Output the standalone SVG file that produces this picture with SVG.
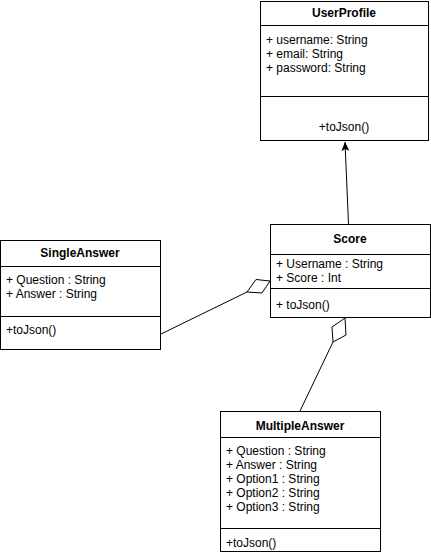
<svg xmlns="http://www.w3.org/2000/svg" width="431" height="555" viewBox="0 0 431 555">
<style>
.box{fill:#fff;stroke:#000;stroke-width:1}
.ln{stroke:#000;stroke-width:1;fill:none}
.t{font-family:"Liberation Sans",Arial,sans-serif;font-size:12px;fill:#000}
.b{font-weight:bold;text-anchor:middle}
.c{text-anchor:middle}
</style>
<defs>
<marker id="arr" markerWidth="10" markerHeight="10" refX="9" refY="4" orient="auto" markerUnits="userSpaceOnUse">
<path d="M0,0 L9,4 L0,8 L2,4 Z" fill="#000"/>
</marker>
</defs>
<rect width="431" height="555" fill="#fff"/>
<g id="connectors">
<line class="ln" x1="348.5" y1="224" x2="345" y2="142" marker-end="url(#arr)"/>
<line class="ln" x1="161" y1="334" x2="247" y2="292"/>
<path class="ln" d="M270,281 L256,279.5 L247,292 L262,293 Z"/>
<line class="ln" x1="300" y1="411" x2="333" y2="342"/>
<path class="ln" d="M345,318 L332,327 L333,342 L346,335 Z"/>
</g>
<g id="UserProfile">
<rect class="box" x="260.5" y="1.5" width="168" height="139"/>
<line class="ln" x1="260.5" y1="25.5" x2="428.5" y2="25.5"/>
<line class="ln" x1="260.5" y1="96.5" x2="428.5" y2="96.5"/>
<text class="t b" x="344" y="17">UserProfile</text>
<text class="t" x="266" y="44">+ username: String</text>
<text class="t" x="266" y="58">+ email: String</text>
<text class="t" x="266" y="72">+ password: String</text>
<text class="t c" x="344" y="131">+toJson()</text>
</g>
<g id="SingleAnswer">
<rect class="box" x="0.5" y="240.5" width="160" height="109"/>
<line class="ln" x1="0.5" y1="266.5" x2="160.5" y2="266.5"/>
<line class="ln" x1="0.5" y1="316.5" x2="160.5" y2="316.5"/>
<text class="t b" x="80" y="257">SingleAnswer</text>
<text class="t" x="6" y="284">+ Question : String</text>
<text class="t" x="6" y="298">+ Answer : String</text>
<text class="t" x="6" y="334">+toJson()</text>
</g>
<g id="Score">
<rect class="box" x="270.5" y="224.5" width="160" height="93"/>
<line class="ln" x1="270.5" y1="254.5" x2="430.5" y2="254.5"/>
<line class="ln" x1="270.5" y1="288.5" x2="430.5" y2="288.5"/>
<text class="t b" x="350" y="243">Score</text>
<text class="t" x="276" y="268">+ Username : String</text>
<text class="t" x="276" y="282">+ Score : Int</text>
<text class="t" x="276" y="309">+ toJson()</text>
</g>
<g id="MultipleAnswer">
<rect class="box" x="220.5" y="411.5" width="160" height="140"/>
<line class="ln" x1="220.5" y1="437.5" x2="380.5" y2="437.5"/>
<line class="ln" x1="220.5" y1="528.5" x2="380.5" y2="528.5"/>
<text class="t b" x="300" y="430">MultipleAnswer</text>
<text class="t" x="226" y="455">+ Question : String</text>
<text class="t" x="226" y="469">+ Answer : String</text>
<text class="t" x="226" y="483">+ Option1 : String</text>
<text class="t" x="226" y="497">+ Option2 : String</text>
<text class="t" x="226" y="511">+ Option3 : String</text>
<text class="t" x="226" y="547">+toJson()</text>
</g>
</svg>
